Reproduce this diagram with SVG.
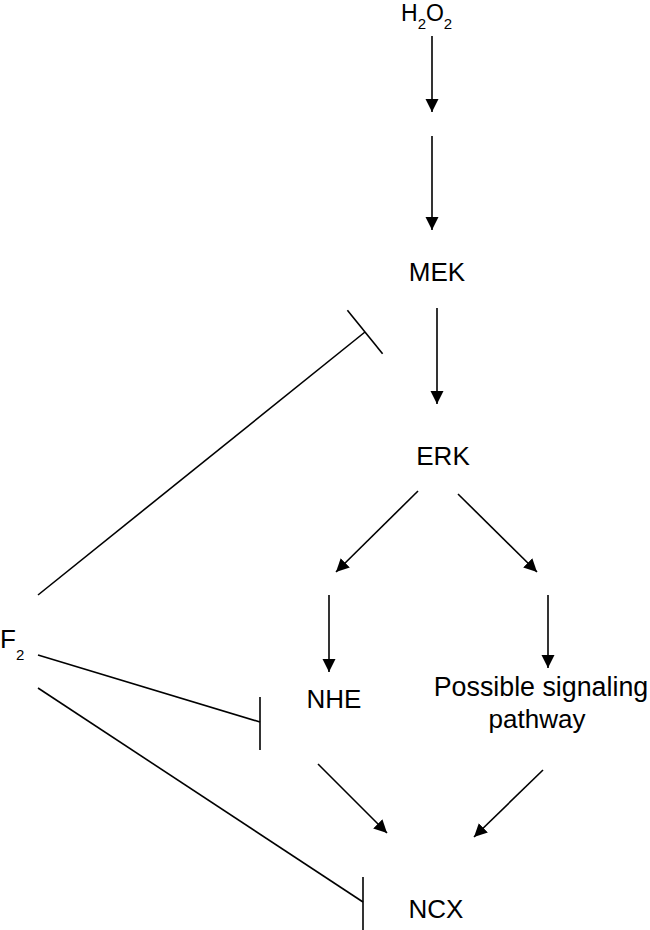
<svg xmlns="http://www.w3.org/2000/svg" width="650" height="930" viewBox="0 0 650 930">
<style>
text{font-family:"Liberation Sans",Arial,sans-serif;fill:#000}
.lbl{font-size:26px}
.sub{font-size:15px}
.c line{stroke:#000;stroke-width:1.6;fill:none}
.a{marker-end:url(#ah)}
</style>
<defs>
<marker id="ah" markerUnits="userSpaceOnUse" markerWidth="14" markerHeight="14" refX="13" refY="7" orient="auto">
<path d="M0,0.5 L13,7 L0,13.5 z" fill="#000"/>
</marker>
</defs>
<rect width="650" height="930" fill="#fff"/>
<g id="h2o2"><text x="401" y="21" font-size="23">H<tspan class="sub" dy="8">2</tspan><tspan dy="-8">O</tspan><tspan class="sub" dy="8">2</tspan></text></g>
<g id="mek"><text class="lbl" x="437" y="281" text-anchor="middle">MEK</text></g>
<g id="erk"><text class="lbl" x="443" y="465" text-anchor="middle">ERK</text></g>
<g id="nhe"><text class="lbl" x="334" y="708" text-anchor="middle">NHE</text></g>
<g id="psp"><text x="541" y="696" text-anchor="middle" font-size="26.8">Possible signaling</text><text class="lbl" x="537" y="728" text-anchor="middle">pathway</text></g>
<g id="ncx"><text class="lbl" x="436" y="918" text-anchor="middle">NCX</text></g>
<g id="f2"><text x="0" y="648" font-size="26">F<tspan class="sub" dy="12">2</tspan></text></g>
<g id="connectors" class="c">
<line class="a" x1="432" y1="36" x2="432" y2="112"/>
<line class="a" x1="432" y1="136" x2="432" y2="230"/>
<line class="a" x1="437" y1="308" x2="437" y2="404"/>
<line class="a" x1="418" y1="491" x2="336" y2="572"/>
<line class="a" x1="458" y1="494" x2="537" y2="572"/>
<line class="a" x1="329" y1="595" x2="329" y2="672"/>
<line class="a" x1="548" y1="595" x2="548" y2="668"/>
<line class="a" x1="318" y1="764" x2="387" y2="833"/>
<line class="a" x1="543" y1="770" x2="474" y2="837"/>
<line x1="38" y1="595" x2="365" y2="332"/>
<line x1="347.4" y1="310.2" x2="382.6" y2="353.8"/>
<line x1="38" y1="655" x2="260" y2="722"/>
<line x1="260" y1="697" x2="260" y2="750"/>
<line x1="38" y1="688" x2="363" y2="902"/>
<line x1="363" y1="877" x2="363" y2="930"/>
</g>
</svg>
